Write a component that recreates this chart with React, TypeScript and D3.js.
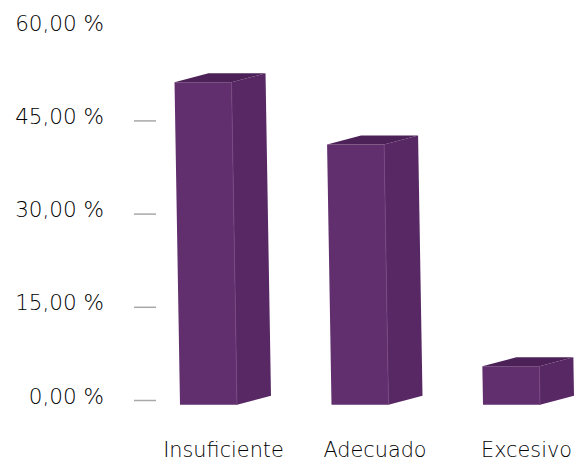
import React from "react";
import * as d3 from "d3";

const categories = ["Insuficiente", "Adecuado", "Excesivo"];
const values = [51.9, 41.9, 6.2];
const tickValues = [0, 15, 30, 45, 60];
const tickLabels = ["0,00 %", "15,00 %", "30,00 %", "45,00 %", "60,00 %"];

const W = 577;
const H = 466;
const FONT = "'DejaVu Sans', 'Open Sans', sans-serif";

export default function App() {
  const y = d3.scaleLinear().domain([0, 60]).range([400.5, 27.7]);
  const x = d3.scalePoint<string>().domain(categories).range([208.5, 511.5]);
  const barW = 57;
  const dx = 34;
  const dy = -9;
  const half = 4.3;
  const skew = 0.017;

  return (
    <svg width={W} height={H} style={{ position: "absolute", left: 0, top: 0 }}>
      <rect width={W} height={H} fill="#ffffff" />
      {tickValues.map((t, i) => (
        <g key={t}>
          {t < 60 && (
            <line x1={134} x2={156} y1={y(t)} y2={y(t)} stroke="#a8a8a8" strokeWidth={1.5} />
          )}
          <text
            x={104}
            y={y(t) - 3}
            textAnchor="end"
            dominantBaseline="middle"
            fontFamily={FONT}
            fontWeight={200}
            fontSize={21.5}
            fill="#000000"
          >
            {tickLabels[i]}
          </text>
        </g>
      ))}
      {categories.map((c, i) => {
        const cx = x(c)!;
        const yb = y(0) + half;
        const yt = y(values[i]) + half;
        const h = yb - yt;
        const shift = skew * h;
        const xl0 = cx - barW / 2;
        const xr0 = cx + barW / 2;
        const xl1 = xl0 - shift;
        const xr1 = xr0 - shift;
        const front = `M${xl0},${yb}L${xr0},${yb}L${xr1},${yt}L${xl1},${yt}Z`;
        const side = `M${xr0},${yb}L${xr0 + dx},${yb + dy}L${xr1 + dx},${yt + dy}L${xr1},${yt}Z`;
        const top = `M${xl1},${yt}L${xr1},${yt}L${xr1 + dx},${yt + dy}L${xl1 + dx},${yt + dy}Z`;
        return (
          <g key={c}>
            <path d={front} fill="#612f6e" />
            <path d={side} fill="#582865" />
            <path d={top} fill="#4c2157" />
            <line x1={xr0} y1={yb} x2={xr1} y2={yt} stroke="#74457f" strokeWidth={0.8} />
            <text
              x={cx + dx / 2 - 2}
              y={451}
              textAnchor="middle"
              dominantBaseline="middle"
              fontFamily={FONT}
              fontWeight={200}
              fontSize={20.8}
              fill="#000000"
            >
              {c}
            </text>
          </g>
        );
      })}
    </svg>
  );
}
